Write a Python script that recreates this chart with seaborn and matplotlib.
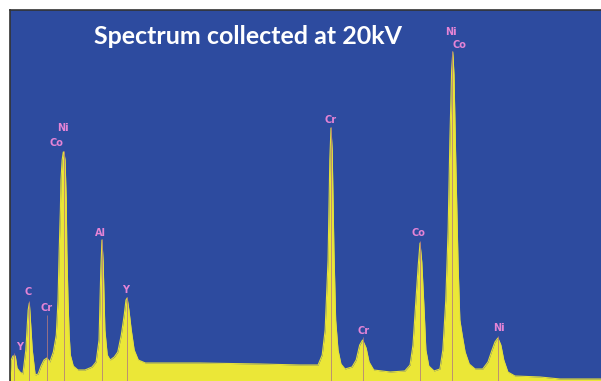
import numpy as np
import pandas as pd
import matplotlib
matplotlib.use("Agg")
import matplotlib.pyplot as plt
import seaborn as sns

# EDS spectrum outline (energy in keV, counts in arbitrary units)
energy = [-0.07, -0.05, -0.02, 0.02, 0.05, 0.10, 0.15, 0.20, 0.24, 0.26, 0.27, 0.31, 0.36,
          0.41, 0.46, 0.51, 0.56, 0.61, 0.67, 0.72, 0.75, 0.77, 0.79, 0.80, 0.82, 0.84, 0.85,
          0.87, 0.89, 0.90, 0.92, 0.94, 0.96, 1.01, 1.09, 1.21, 1.33, 1.40, 1.45, 1.48, 1.50,
          1.52, 1.55, 1.59, 1.64, 1.71, 1.77, 1.83, 1.88, 1.91, 1.93, 1.96, 2.00, 2.05, 2.12,
          2.24, 3.17, 4.20, 4.88, 5.19, 5.26, 5.31, 5.36, 5.39, 5.41, 5.43, 5.46, 5.49, 5.53,
          5.58, 5.65, 5.77, 5.84, 5.90, 5.95, 6.01, 6.06, 6.14, 6.42, 6.67, 6.76, 6.81, 6.86,
          6.90, 6.93, 6.96, 7.00, 7.03, 7.08, 7.17, 7.27, 7.32, 7.37, 7.41, 7.44, 7.47, 7.49,
          7.51, 7.54, 7.58, 7.61, 7.65, 7.70, 7.77, 7.87, 8.00, 8.09, 8.16, 8.21, 8.26, 8.31,
          8.36, 8.43, 8.55, 8.98, 9.32, 10.02]
counts = [0, 21, 25, 25, 13, 9, 7, 31, 71, 78, 69, 31, 6,
          7, 15, 21, 23, 19, 29, 46, 81, 131, 171, 201, 221, 229, 229,
          221, 181, 131, 81, 46, 26, 15, 11, 11, 14, 19, 41, 111, 141,
          119, 51, 26, 21, 24, 29, 46, 66, 81, 83, 71, 51, 31, 21,
          18, 18, 17, 16, 16, 26, 51, 121, 221, 253, 231, 131, 61, 31,
          17, 12, 14, 21, 36, 41, 33, 19, 11, 9, 10, 16, 36, 81,
          116, 138, 119, 71, 31, 15, 10, 12, 31, 81, 151, 241, 311, 329,
          306, 221, 116, 61, 46, 29, 17, 12, 12, 19, 31, 39, 43, 36,
          21, 9, 5, 4, 2, 2]

# peak markers and their element labels
marker_energy = [0.00, 0.26, 0.56, 0.85, 1.50, 1.93, 5.41, 5.95, 6.93, 7.48, 8.26]
marker_top = [28, 80, 66, 230, 142, 84, 254, 44, 140, 330, 45]
label_text = ["Y", "C", "Cr", "Ni", "Co", "Al", "Y", "Cr", "Cr", "Co", "Ni", "Co", "Ni"]
label_x = [0.10, 0.24, 0.55, 0.84, 0.73, 1.48, 1.91, 5.41, 5.96, 6.91, 7.46, 7.61, 8.28]
label_y = [34, 89, 73, 253, 238, 148, 91, 261, 50, 148, 349, 336, 53]

spec = pd.DataFrame({"energy": energy, "counts": counts})

sns.set_theme(style="white")
fig = plt.figure(figsize=(6.01, 3.81), dpi=100, facecolor="white")
ax = fig.add_axes([10 / 601, 0, 591 / 601, 371 / 381])
ax.set_facecolor("#2d4b9f")

ax.fill_between(spec["energy"], spec["counts"], color="#ebe737", lw=0)
sns.lineplot(data=spec, x="energy", y="counts", ax=ax, color="#e4df3a", lw=0.8)

ax.vlines(marker_energy, 0, marker_top, color="#b07a80", lw=0.7, alpha=0.8)

for t, x, y in zip(label_text, label_x, label_y):
    ax.text(x, y, t, color="#e584d6", fontsize=7, fontweight="bold",
            ha="center", va="center")

ax.text(4.0, 344, "Spectrum collected at 20kV", color="white", fontsize=18,
        fontweight="bold", family="Lato", ha="center", va="center")

ax.set_xlim(-0.07, 10.02)
ax.set_ylim(0, 371)
ax.set_xticks([])
ax.set_yticks([])
ax.set_xlabel("")
ax.set_ylabel("")
for side in ["right", "bottom"]:
    ax.spines[side].set_visible(False)
for side in ["left", "top"]:
    ax.spines[side].set_color("#333333")
    ax.spines[side].set_linewidth(1.2)

fig.savefig("out.png", dpi=100)
